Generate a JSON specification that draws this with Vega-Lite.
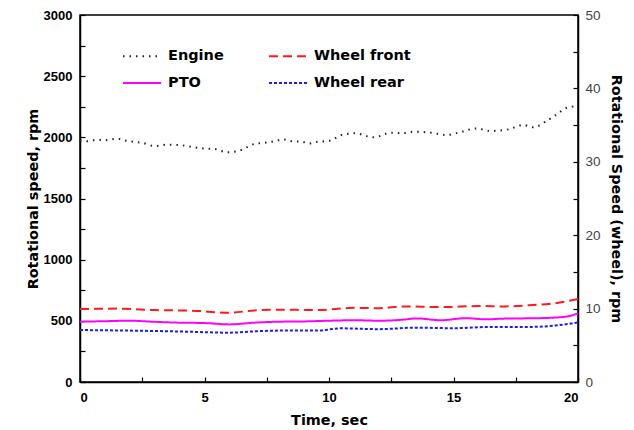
{
  "$schema": "https://vega.github.io/schema/vega-lite/v6.json",
  "width": 498,
  "height": 367,
  "autosize": {"type": "none"},
  "padding": {"left": 80, "top": 15, "right": 56, "bottom": 48},
  "background": "white",
  "config": {
    "view": {"stroke": "black", "strokeWidth": 1.5},
    "font": "Liberation Sans",
    "axis": {"grid": false, "domainColor": "black", "domainWidth": 1.5, "tickColor": "black", "tickWidth": 1.2, "labelFont": "Liberation Sans", "titleFont": "DejaVu Sans", "titleFontWeight": "bold", "titleColor": "black", "titleFontSize": 14.4}
  },
  "data": {
    "values": [
      {"series": "Engine", "t": 0, "v": 1973},
      {"series": "Engine", "t": 0.3, "v": 1968},
      {"series": "Engine", "t": 0.7, "v": 1980},
      {"series": "Engine", "t": 1.0, "v": 1976},
      {"series": "Engine", "t": 1.5, "v": 1989},
      {"series": "Engine", "t": 1.8, "v": 1975},
      {"series": "Engine", "t": 2.1, "v": 1965},
      {"series": "Engine", "t": 2.5, "v": 1955},
      {"series": "Engine", "t": 3.0, "v": 1929},
      {"series": "Engine", "t": 3.5, "v": 1940},
      {"series": "Engine", "t": 4.0, "v": 1937},
      {"series": "Engine", "t": 4.4, "v": 1925},
      {"series": "Engine", "t": 4.9, "v": 1910},
      {"series": "Engine", "t": 5.4, "v": 1905},
      {"series": "Engine", "t": 5.9, "v": 1878},
      {"series": "Engine", "t": 6.4, "v": 1891},
      {"series": "Engine", "t": 7.0, "v": 1946},
      {"series": "Engine", "t": 7.4, "v": 1955},
      {"series": "Engine", "t": 7.85, "v": 1970},
      {"series": "Engine", "t": 8.15, "v": 1984},
      {"series": "Engine", "t": 8.5, "v": 1968},
      {"series": "Engine", "t": 8.9, "v": 1965},
      {"series": "Engine", "t": 9.2, "v": 1950},
      {"series": "Engine", "t": 9.5, "v": 1962},
      {"series": "Engine", "t": 10.05, "v": 1973},
      {"series": "Engine", "t": 10.5, "v": 2019},
      {"series": "Engine", "t": 11.1, "v": 2033},
      {"series": "Engine", "t": 11.5, "v": 2010},
      {"series": "Engine", "t": 11.8, "v": 2000},
      {"series": "Engine", "t": 12.5, "v": 2038},
      {"series": "Engine", "t": 13.0, "v": 2035},
      {"series": "Engine", "t": 13.4, "v": 2046},
      {"series": "Engine", "t": 14.1, "v": 2038},
      {"series": "Engine", "t": 14.7, "v": 2019},
      {"series": "Engine", "t": 15.3, "v": 2044},
      {"series": "Engine", "t": 15.9, "v": 2073},
      {"series": "Engine", "t": 16.5, "v": 2052},
      {"series": "Engine", "t": 17.2, "v": 2065},
      {"series": "Engine", "t": 17.8, "v": 2101},
      {"series": "Engine", "t": 18.2, "v": 2082},
      {"series": "Engine", "t": 18.7, "v": 2128},
      {"series": "Engine", "t": 19.1, "v": 2182},
      {"series": "Engine", "t": 19.6, "v": 2245},
      {"series": "Engine", "t": 20, "v": 2255},

      {"series": "PTO", "t": 0, "v": 493},
      {"series": "PTO", "t": 1, "v": 497},
      {"series": "PTO", "t": 2, "v": 501},
      {"series": "PTO", "t": 3, "v": 492},
      {"series": "PTO", "t": 4, "v": 485},
      {"series": "PTO", "t": 5, "v": 482},
      {"series": "PTO", "t": 6, "v": 471},
      {"series": "PTO", "t": 7, "v": 485},
      {"series": "PTO", "t": 8, "v": 493},
      {"series": "PTO", "t": 9, "v": 495},
      {"series": "PTO", "t": 10, "v": 501},
      {"series": "PTO", "t": 11, "v": 505},
      {"series": "PTO", "t": 12, "v": 501},
      {"series": "PTO", "t": 13, "v": 510},
      {"series": "PTO", "t": 13.5, "v": 520},
      {"series": "PTO", "t": 14.5, "v": 505},
      {"series": "PTO", "t": 15.5, "v": 522},
      {"series": "PTO", "t": 16.3, "v": 512},
      {"series": "PTO", "t": 17, "v": 518},
      {"series": "PTO", "t": 18.5, "v": 522},
      {"series": "PTO", "t": 19.5, "v": 534},
      {"series": "PTO", "t": 20, "v": 561},

      {"series": "Wheel front", "t": 0, "v": 9.94},
      {"series": "Wheel front", "t": 1.5, "v": 10.0},
      {"series": "Wheel front", "t": 3, "v": 9.8},
      {"series": "Wheel front", "t": 4.5, "v": 9.72},
      {"series": "Wheel front", "t": 6, "v": 9.44},
      {"series": "Wheel front", "t": 7, "v": 9.75},
      {"series": "Wheel front", "t": 8, "v": 9.85},
      {"series": "Wheel front", "t": 9.5, "v": 9.8},
      {"series": "Wheel front", "t": 11, "v": 10.1},
      {"series": "Wheel front", "t": 12, "v": 10.05},
      {"series": "Wheel front", "t": 13, "v": 10.3},
      {"series": "Wheel front", "t": 14.5, "v": 10.2},
      {"series": "Wheel front", "t": 16, "v": 10.35},
      {"series": "Wheel front", "t": 17, "v": 10.3},
      {"series": "Wheel front", "t": 18, "v": 10.45},
      {"series": "Wheel front", "t": 19, "v": 10.7},
      {"series": "Wheel front", "t": 20, "v": 11.3},

      {"series": "Wheel rear", "t": 0, "v": 7.08},
      {"series": "Wheel rear", "t": 2, "v": 7.0},
      {"series": "Wheel rear", "t": 4, "v": 6.88},
      {"series": "Wheel rear", "t": 6, "v": 6.72},
      {"series": "Wheel rear", "t": 7, "v": 6.9},
      {"series": "Wheel rear", "t": 8, "v": 7.0},
      {"series": "Wheel rear", "t": 9.5, "v": 7.0},
      {"series": "Wheel rear", "t": 10.5, "v": 7.31},
      {"series": "Wheel rear", "t": 12, "v": 7.2},
      {"series": "Wheel rear", "t": 13.5, "v": 7.4},
      {"series": "Wheel rear", "t": 15, "v": 7.33},
      {"series": "Wheel rear", "t": 16.5, "v": 7.5},
      {"series": "Wheel rear", "t": 18, "v": 7.5},
      {"series": "Wheel rear", "t": 19.5, "v": 7.86},
      {"series": "Wheel rear", "t": 20, "v": 8.13}
    ]
  },
  "encoding": {
    "x": {
      "field": "t", "type": "quantitative",
      "scale": {"domain": [0, 20], "nice": false},
      "axis": {
        "title": "Time, sec",
        "values": [0, 2.5, 5, 7.5, 10, 12.5, 15, 17.5, 20],
        "labelExpr": "datum.value % 5 == 0 ? datum.label : ''",
        "tickSize": -5, "labelPadding": 14,
        "labelFontSize": 13, "labelFontWeight": "bold", "labelColor": "black",
        "titlePadding": 9
      }
    },
    "color": {
      "field": "series", "type": "nominal",
      "scale": {"domain": ["Engine", "Wheel front", "PTO", "Wheel rear"], "range": ["#222222", "#ff1a1a", "#ff00ff", "#1a1aff"]},
      "legend": {
        "title": null, "orient": "none", "legendX": 42, "legendY": 21, "columns": 2,
        "values": ["Engine", "PTO", "Wheel front", "Wheel rear"],
        "columnPadding": 41, "rowPadding": -19,
        "symbolType": "stroke", "symbolSize": 1444, "symbolStrokeWidth": 2,
        "labelFont": "DejaVu Sans", "labelFontSize": 14.5, "labelFontWeight": "bold", "labelColor": "black", "labelOffset": 6
      }
    },
    "strokeDash": {
      "field": "series", "type": "nominal",
      "scale": {"domain": ["Engine", "Wheel front", "PTO", "Wheel rear"], "range": [[1.5, 5], [9, 5], [1, 0], [3, 2]]},
      "legend": {
        "title": null, "orient": "none", "legendX": 42, "legendY": 21, "columns": 2,
        "values": ["Engine", "PTO", "Wheel front", "Wheel rear"],
        "columnPadding": 41, "rowPadding": -19,
        "symbolType": "stroke", "symbolSize": 1444, "symbolStrokeWidth": 2,
        "labelFont": "DejaVu Sans", "labelFontSize": 14.5, "labelFontWeight": "bold", "labelColor": "black", "labelOffset": 6
      }
    }
  },
  "layer": [
    {
      "transform": [{"filter": "datum.series == 'Engine' || datum.series == 'PTO'"}],
      "mark": {"type": "line", "strokeWidth": 2, "interpolate": "monotone"},
      "encoding": {
        "y": {
          "field": "v", "type": "quantitative",
          "scale": {"domain": [0, 3000], "nice": false},
          "axis": {
            "orient": "left", "title": "Rotational speed, rpm",
            "values": [0, 250, 500, 750, 1000, 1250, 1500, 1750, 2000, 2250, 2500, 2750, 3000],
            "labelExpr": "datum.value % 500 == 0 ? datum.value : ''",
            "tickSize": -5, "labelPadding": 13,
            "labelFontSize": 13, "labelFontWeight": "bold", "labelColor": "black",
            "titlePadding": 3
          }
        }
      }
    },
    {
      "transform": [{"filter": "datum.series == 'Wheel front' || datum.series == 'Wheel rear'"}],
      "mark": {"type": "line", "strokeWidth": 2, "interpolate": "monotone"},
      "encoding": {
        "y": {
          "field": "v", "type": "quantitative",
          "scale": {"domain": [0, 50], "nice": false},
          "axis": {
            "orient": "right", "title": "Rotational Speed (wheel), rpm",
            "values": [0, 5, 10, 15, 20, 25, 30, 35, 40, 45, 50],
            "labelExpr": "datum.value % 10 == 0 ? datum.value : ''",
            "tickSize": -5, "labelPadding": 12,
            "labelFontSize": 13.5, "labelColor": "#444444",
            "titlePadding": 8
          }
        }
      }
    }
  ],
  "resolve": {"scale": {"y": "independent"}}
}
